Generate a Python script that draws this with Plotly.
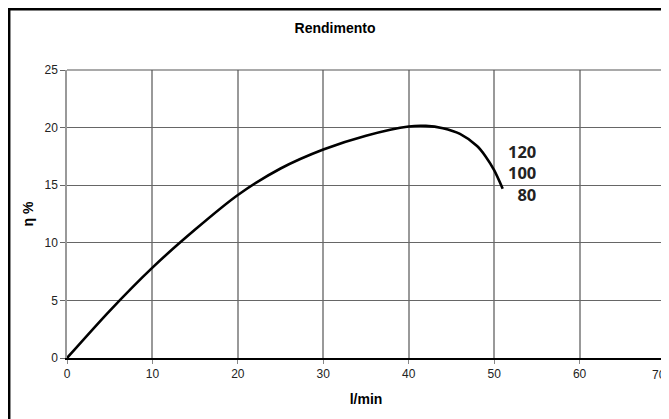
import plotly.graph_objects as go

# Data
flow_lpm = [0, 5, 10, 15, 20, 25, 30, 35, 40, 42, 44, 46, 48, 49, 50, 51]
efficiency_pct = [0, 4.1, 7.85, 11.15, 14.15, 16.45, 18.1, 19.3, 20.1, 20.15, 19.95, 19.45, 18.4, 17.5, 16.3, 14.7]
curve_labels = ["120", "100", "80"]
x_ticks = [0, 10, 20, 30, 40, 50, 60, 70]
y_ticks = [0, 5, 10, 15, 20, 25]

# page body has an 8px margin; figure sized to fit the window
OFF = 8
W, H = 669 - OFF, 419 - OFF
L, R, T, B = 67 - OFF, 4, 70 - OFF, 61
pw, ph = W - L - R, H - T - B

fig = go.Figure()
fig.add_trace(go.Scatter(
    x=flow_lpm, y=efficiency_pct, mode="lines",
    line=dict(color="black", width=2.6, shape="spline", smoothing=0.8),
    hoverinfo="skip", showlegend=False,
))

fig.add_annotation(x=54.9, y=16.05, text="<b>" + "<br>".join(curve_labels) + "</b>",
                   showarrow=False, xanchor="right", yanchor="middle", align="right",
                   xshift=2, font=dict(family="Open Sans", size=16.5, color="#222"))

# last x tick label sits at the very edge of the window: draw it so it stays inside
fig.add_annotation(x=x_ticks[-1], xref="x", y=0, yref="paper", text=str(x_ticks[-1]),
                   showarrow=False, xanchor="right", yanchor="top", xshift=R - 1, yshift=-8,
                   font=dict(family="Liberation Sans, Arial", size=12, color="#222"))

# outer frame
fig.add_shape(type="rect", xref="paper", yref="paper",
              x0=(1.2 - L) / pw, x1=1.2, y0=-0.4, y1=1 + (T - 1.2) / ph,
              line=dict(color="black", width=2.5), layer="above")

fig.update_layout(
    width=W, height=H,
    margin=dict(l=L, r=R, t=T, b=B),
    paper_bgcolor="white", plot_bgcolor="white",
    font=dict(family="Liberation Sans, Arial", size=12, color="#222"),
    title=dict(text="<b>Rendimento</b>", x=(335 - OFF) / W, xref="container", xanchor="center",
               y=1 - (28 - OFF) / H, yref="container", yanchor="middle",
               font=dict(family="Liberation Sans, Arial", size=14, color="black")),
    xaxis=dict(range=[0, 70], tickvals=x_ticks, ticktext=[str(v) for v in x_ticks[:-1]] + [""],
               showgrid=True, gridcolor="#999",
               gridwidth=1.5, zeroline=False, showline=True, linecolor="black",
               linewidth=1.5, mirror=False, ticks="outside", ticklen=4,
               tickcolor="#888", tickfont=dict(size=12, color="#222"),
               title=dict(text="<b>l/min</b>", font=dict(size=14, color="black"), standoff=14)),
    yaxis=dict(range=[0, 25], tickvals=y_ticks, showgrid=True, gridcolor="#666",
               gridwidth=1, zeroline=False, showline=True, linecolor="#999",
               linewidth=1.5, ticks="outside", ticklen=5, tickcolor="#666",
               tickfont=dict(size=12, color="#222"),
               title=dict(text="<b>η %</b>", font=dict(size=14, color="black"), standoff=8)),
)

# plot area top and right borders
fig.add_shape(type="line", xref="paper", yref="paper", x0=0, x1=1, y0=1, y1=1,
              line=dict(color="#555", width=1.2))
fig.add_shape(type="line", xref="paper", yref="paper", x0=1, x1=1, y0=0, y1=1,
              line=dict(color="#888", width=1.2))

fig.write_html("out.html")
